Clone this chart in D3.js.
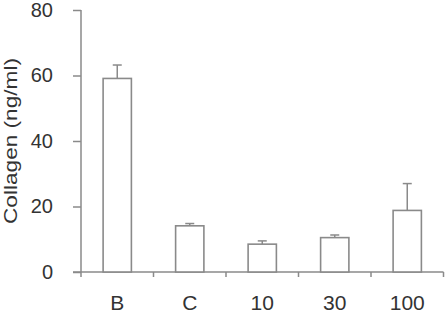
<!DOCTYPE html>
<html>
<head>
<meta charset="utf-8">
<script src="https://cdn.jsdelivr.net/npm/d3@7"></script>
<style>
  body { margin: 0; background: #fff; }
  text { font-family: "Liberation Sans", Arial, sans-serif; fill: #333; }
</style>
</head>
<body>
<div id="chart"></div>
<script>
const categories = ["B", "C", "10", "30", "100"];
const means = [59.1, 14.1, 8.5, 10.5, 18.8];
const errors = [4.1, 0.7, 1.0, 0.8, 8.2];
const yTicks = [0, 20, 40, 60, 80];

const W = 446, H = 315;
const margin = { top: 10, right: 2.5, bottom: 43, left: 81 };

const svg = d3.select("#chart")
  .append("svg")
  .attr("width", W)
  .attr("height", H);

const x = d3.scaleBand()
  .domain(categories)
  .range([margin.left, W - margin.right])
  .paddingInner(0.61)
  .paddingOuter(0.305);

const y = d3.scaleLinear()
  .domain([0, 80])
  .range([H - margin.bottom, margin.top]);

const axisColor = "#8a8a8a";

// y axis
const yAxis = svg.append("g")
  .attr("transform", `translate(${margin.left},0)`)
  .call(d3.axisLeft(y).tickValues(yTicks).tickSize(8).tickPadding(20).tickSizeOuter(0));
yAxis.select(".domain").remove();
yAxis.append("line")
  .attr("x1", 0).attr("x2", 0)
  .attr("y1", y(80)).attr("y2", y(0) + 5)
  .attr("stroke", axisColor).attr("stroke-width", 1.5);
yAxis.selectAll(".tick line").attr("stroke", axisColor).attr("stroke-width", 1.5);
yAxis.selectAll(".tick text").style("font-size", "20px").attr("fill", "#333");

// x axis baseline and separators between groups
const xBase = y(0);
svg.append("line")
  .attr("x1", margin.left - 8).attr("x2", W - margin.right)
  .attr("y1", xBase).attr("y2", xBase)
  .attr("stroke", axisColor).attr("stroke-width", 1.5);

const step = x.step();
const seps = categories.slice(1).map(c => x(c) - x.paddingInner() * step / 2);
seps.push(W - margin.right);
svg.selectAll(".sep")
  .data(seps)
  .enter()
  .append("line")
  .attr("x1", d => d).attr("x2", d => d)
  .attr("y1", xBase).attr("y2", xBase + 5)
  .attr("stroke", axisColor).attr("stroke-width", 1.5);

svg.selectAll(".xlab")
  .data(categories)
  .enter()
  .append("text")
  .attr("x", d => x(d) + x.bandwidth() / 2)
  .attr("y", 310)
  .attr("text-anchor", "middle")
  .style("font-size", "21px")
  .text(d => d);

// error bars (upper only)
const cap = 4.5;
const errG = svg.selectAll(".err")
  .data(categories)
  .enter()
  .append("g")
  .attr("stroke", axisColor)
  .attr("stroke-width", 1.5);
errG.append("line")
  .attr("x1", d => x(d) + x.bandwidth() / 2)
  .attr("x2", d => x(d) + x.bandwidth() / 2)
  .attr("y1", (d, i) => y(means[i]))
  .attr("y2", (d, i) => y(means[i] + errors[i]));
errG.append("line")
  .attr("x1", d => x(d) + x.bandwidth() / 2 - cap)
  .attr("x2", d => x(d) + x.bandwidth() / 2 + cap)
  .attr("y1", (d, i) => y(means[i] + errors[i]))
  .attr("y2", (d, i) => y(means[i] + errors[i]));

// bars
svg.selectAll(".bar")
  .data(categories)
  .enter()
  .append("rect")
  .attr("x", d => x(d))
  .attr("y", (d, i) => y(means[i]))
  .attr("width", x.bandwidth())
  .attr("height", (d, i) => y(0) - y(means[i]))
  .attr("fill", "#fff")
  .attr("stroke", axisColor)
  .attr("stroke-width", 1.6);

// y label
svg.append("text")
  .attr("transform", `translate(17,141) rotate(-90)`)
  .attr("text-anchor", "middle")
  .attr("textLength", 166)
  .attr("lengthAdjust", "spacingAndGlyphs")
  .style("font-size", "19px")
  .text("Collagen (ng/ml)");
</script>
</body>
</html>
